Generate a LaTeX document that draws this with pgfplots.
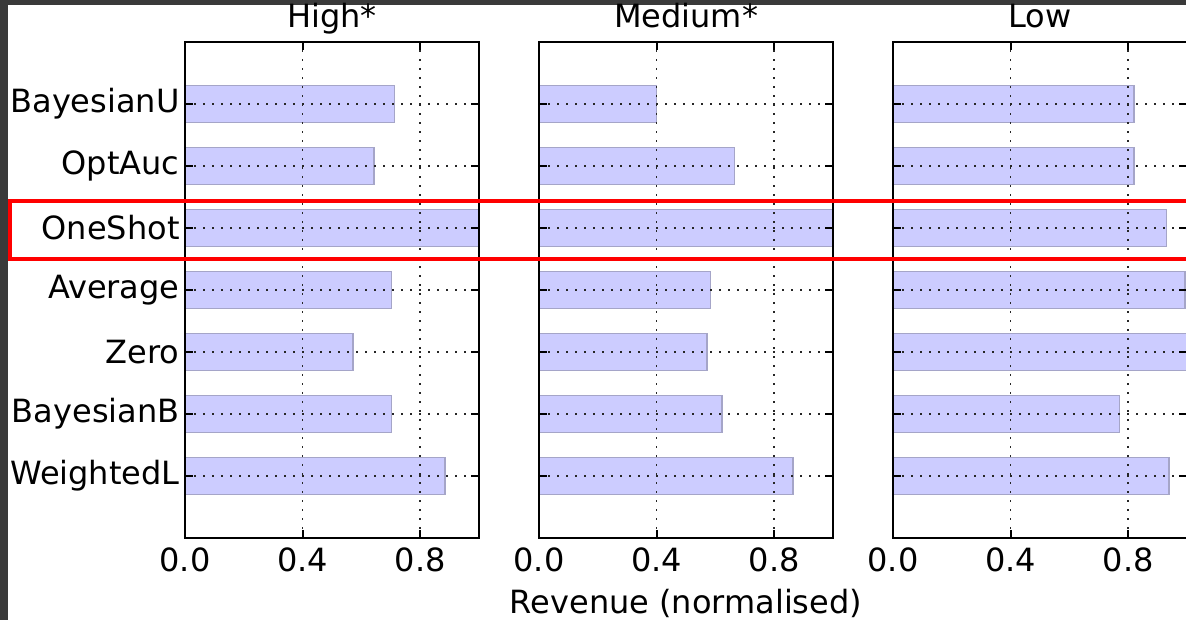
\documentclass[border=0pt]{standalone}
\usepackage{fontspec}
\setmainfont{DejaVu Sans}
\usepackage{pgfplots}
\pgfplotsset{compat=1.18}
\definecolor{darkbg}{RGB}{58,58,58}
\definecolor{barfill}{RGB}{204,204,255}
\definecolor{baredge}{RGB}{165,165,200}
\pgfplotsset{
  common/.style={
    scale only axis,
    width=147pt, height=248pt,
    anchor=south west,
    xmin=0, xmax=1, ymin=-1, ymax=7,
    xtick={0,0.4,0.8},
    xticklabels={0.0,0.4,0.8},
    ytick={0,1,2,3,4,5,6},
    tick align=inside,
    major tick length=4pt,
    every tick/.style={black, line width=0.9pt},
    axis line style={line width=1pt, black},
    grid=major,
    major grid style={black!85, line width=0.85pt, dash pattern=on 0.9pt off 3.6pt},
    axis on top,
    /pgf/number format/assume math mode=true,
    tick label style={font=\fontsize{16}{19}\selectfont},
    xticklabel style={yshift=-1.2pt},
    yticklabel style={xshift=0.8pt},
    every axis title shift=0pt,
    title style={font=\fontsize{16}{19}\selectfont, at={(axis description cs:0.5,1)}, anchor=base, yshift=7pt},
    label style={font=\fontsize{16}{19}\selectfont},
  },
  barstyle/.style={xbar, bar width=0.6, fill=barfill, draw=baredge, line width=0.8pt},
}
\begin{document}
\begin{tikzpicture}
\useasboundingbox (0,0) rectangle (593pt,310pt);
\clip (0,0) rectangle (593pt,310pt);
\fill[darkbg] (0,0) rectangle (593pt,310pt);
\fill[white] (4pt,0) rectangle (593pt,307.5pt);

\begin{axis}[common, at={(92.5pt,41pt)}, title={High*},
  yticklabels={WeightedL,BayesianB,Zero,Average,OneShot,OptAuc,BayesianU}]
\addplot[barstyle] coordinates {(0.885,0) (0.703,1) (0.572,2) (0.703,3) (1.0,4) (0.643,5) (0.713,6)};
\end{axis}

\begin{axis}[common, at={(269.5pt,41pt)}, title={Medium*},
  yticklabels={,,,,,,},
  xlabel={Revenue (normalised)},
  xlabel style={at={(axis description cs:0.5,0)}, anchor=base, yshift=-37.5pt}]
\addplot[barstyle] coordinates {(0.864,0) (0.622,1) (0.571,2) (0.583,3) (1.0,4) (0.665,5) (0.40,6)};
\end{axis}

\begin{axis}[common, at={(446.5pt,41pt)}, title={Low},
  yticklabels={,,,,,,}]
\addplot[barstyle] coordinates {(0.939,0) (0.77,1) (1.0,2) (0.993,3) (0.93,4) (0.82,5) (0.82,6)};
\end{axis}

\draw[red, line width=1.75pt] (5pt,209.5pt) rectangle (610pt,180.5pt);
\end{tikzpicture}
\end{document}
